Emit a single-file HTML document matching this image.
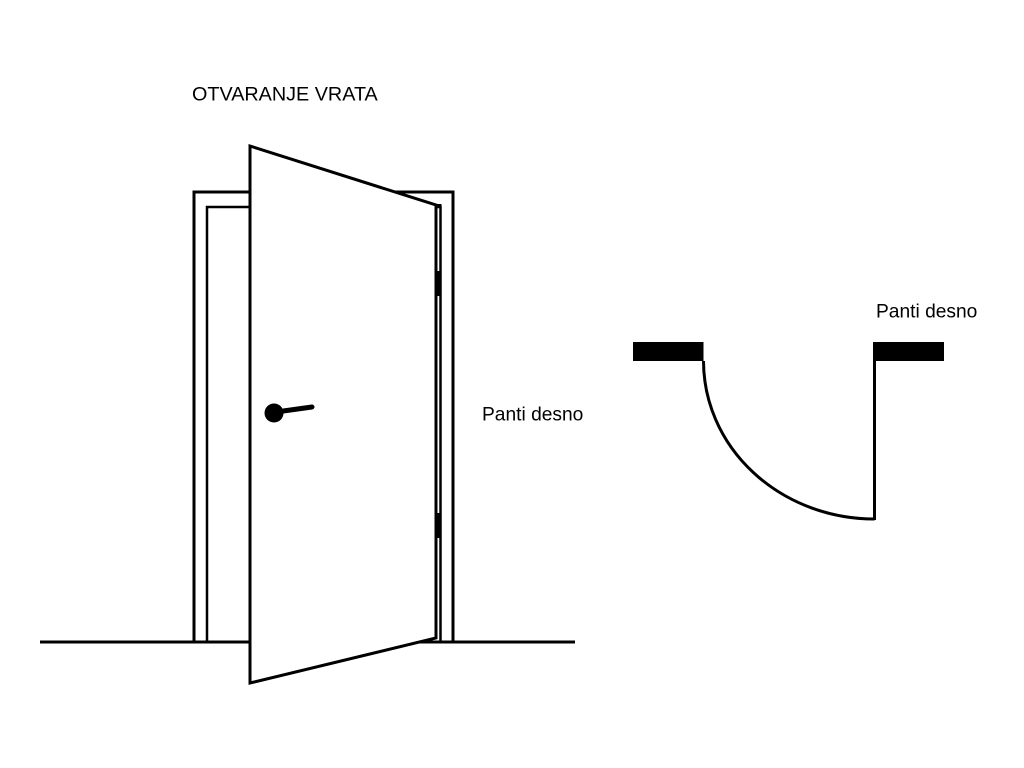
<!DOCTYPE html>
<html>
<head>
<meta charset="utf-8">
<style>
  html, body { margin: 0; padding: 0; background: #fff; }
  body { width: 1024px; height: 768px; overflow: hidden; }
  svg { display: block; }
  text { font-family: "Liberation Sans", Arial, sans-serif; fill: #000; }
</style>
</head>
<body>
<svg width="1024" height="768" viewBox="0 0 1024 768" xmlns="http://www.w3.org/2000/svg">
  <rect width="1024" height="768" fill="#fff"/>

  <!-- Title -->
  <text x="192" y="100.5" font-size="19.8">OTVARANJE VRATA</text>

  <!-- Floor -->
  <line x1="40" y1="642" x2="575" y2="642" stroke="#000" stroke-width="3"/>

  <!-- Outer frame -->
  <polyline points="194,642 194,192 453,192 453,642" fill="none" stroke="#000" stroke-width="3"/>
  <!-- Inner frame -->
  <polyline points="207,642 207,207 440.5,207 440.5,642" fill="none" stroke="#000" stroke-width="2.5"/>

  <!-- Door slab -->
  <polygon points="250,146 436,205 436,638 250,683" fill="#fff" stroke="#000" stroke-width="3" stroke-linejoin="miter"/>
  <!-- Door edge strip -->
  <polyline points="436,205 440.5,205 440.5,640" fill="none" stroke="#000" stroke-width="2"/>

  <!-- Hinges -->
  <rect x="435" y="271" width="6.5" height="25" fill="#000"/>
  <rect x="435" y="513" width="6.5" height="25" fill="#000"/>

  <!-- Handle -->
  <circle cx="274" cy="413" r="9.5" fill="#000"/>
  <line x1="276" y1="412" x2="312" y2="407" stroke="#000" stroke-width="5" stroke-linecap="round"/>

  <!-- Label left -->
  <text x="482" y="420.5" font-size="19.2">Panti desno</text>

  <!-- Plan view -->
  <rect x="633" y="342" width="70.5" height="19" fill="#000"/>
  <rect x="873" y="342" width="71" height="19" fill="#000"/>
  <line x1="874.5" y1="360" x2="874.5" y2="520" stroke="#000" stroke-width="3"/>
  <path d="M703.5,361 A171,158 0 0,0 874.5,519" fill="none" stroke="#000" stroke-width="3"/>

  <!-- Label right -->
  <text x="876" y="317.5" font-size="19.2">Panti desno</text>
</svg>
</body>
</html>
